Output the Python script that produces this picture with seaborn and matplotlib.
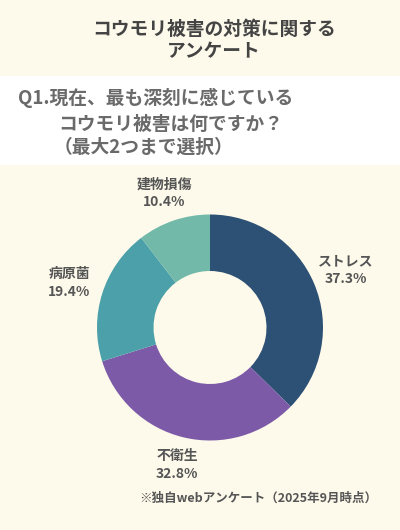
import matplotlib
matplotlib.use("Agg")
import numpy as np
import matplotlib.pyplot as plt
import seaborn as sns
from matplotlib.patches import Rectangle

# ── Data ───────────────────────────────────────────────
categories = ["ストレス", "不衛生", "病原菌", "建物損傷"]
shares     = [37.3, 32.8, 19.4, 10.4]
colors     = ["#2d5075", "#7d5aa8", "#4ba0a9", "#72b9a9"]

title_lines = ["コウモリ被害の対策に関する", "アンケート"]
question    = ["Q1.現在、最も深刻に感じている",
               "コウモリ被害は何ですか？",
               "（最大2つまで選択）"]
footnote    = "※独自webアンケート（2025年9月時点）"
# ───────────────────────────────────────────────────────

BG   = "#fdfaeb"
W, H = 400, 530

sns.set_theme(style="white")
plt.rcParams["font.family"] = ["Noto Sans CJK JP", "DejaVu Sans"]

fig = plt.figure(figsize=(W / 100, H / 100), dpi=100, facecolor=BG)

# white band behind the question
fig.patches.append(Rectangle((0, 1 - 165 / H), 1, 89 / H,
                             transform=fig.transFigure, facecolor="white",
                             edgecolor="none", zorder=0))

# title
fig.text(0.535, 1 - 29 / H, title_lines[0], ha="center", va="center",
         fontsize=13.5, fontweight="bold", color="#444444")
fig.text(0.535, 1 - 52 / H, title_lines[1], ha="center", va="center",
         fontsize=13.5, fontweight="bold", color="#444444")

# question
q_pos = [(18, 98), (58, 124), (54, 147)]
for (px, py), line in zip(q_pos, question):
    fig.text(px / W, 1 - py / H, line, ha="left", va="center",
             fontsize=13.5, fontweight="bold", color="#6a6a6a")

# donut
cx, cy, r = 210, 327.5, 113
ax = fig.add_axes([(cx - r) / W, 1 - (cy + r) / H, 2 * r / W, 2 * r / H])
ax.set_facecolor("none")
wedges, _ = ax.pie(shares, colors=colors, startangle=90, counterclock=False,
                   radius=1, wedgeprops=dict(width=0.5, edgecolor="none"))

# labels outside each wedge, a bit further out left/right (wide text)
for w, c, v in zip(wedges, categories, shares):
    theta = np.deg2rad((w.theta1 + w.theta2) / 2)
    d = 1.23 + 0.08 * abs(np.cos(theta))
    ax.text(d * np.cos(theta), d * np.sin(theta), f"{c}\n{v:.1f}%",
            ha="center", va="center", fontsize=10, fontweight="bold",
            color="#555555", linespacing=1.35, clip_on=False)
ax.set_xlim(-1, 1)
ax.set_ylim(-1, 1)
ax.axis("off")

fig.text(377 / W, 1 - 498 / H, footnote, ha="right", va="center",
         fontsize=9, fontweight="bold", color="#555555")

fig.savefig("out.png", dpi=100, facecolor=BG)
